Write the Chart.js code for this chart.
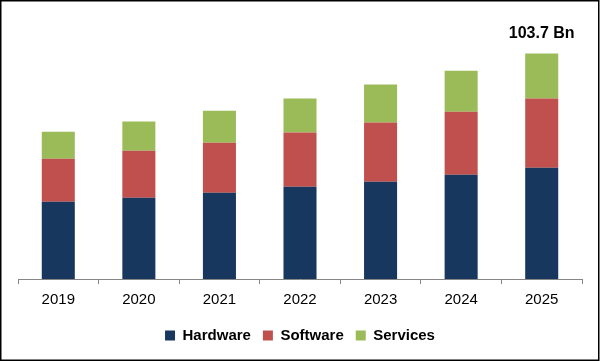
<!DOCTYPE html>
<html>
<head>
<meta charset="utf-8">
<script src="https://cdn.jsdelivr.net/npm/chart.js@4/dist/chart.umd.min.js"></script>
<style>
  html, body { margin: 0; padding: 0; background: #fff; }
  #wrap { width: 601px; height: 361px; }
</style>
</head>
<body>
<div id="wrap"><canvas id="chart" width="601" height="361"></canvas></div>
<script>
var years = ['2019', '2020', '2021', '2022', '2023', '2024', '2025'];
var hardware = [35.5, 37.3, 39.6, 42.4, 44.7, 47.9, 51.2];
var software = [19.8, 21.7, 23.0, 24.9, 27.2, 29.0, 31.8];
var services = [12.4, 13.4, 14.7, 15.7, 17.5, 18.9, 20.7];
var totalUnit = ' Bn';

// frame round the whole picture
var framePlugin = {
    id: 'frame',
    beforeDraw: function (chart) {
        var ctx = chart.ctx;
        ctx.save();
        ctx.fillStyle = '#ffffff';
        ctx.fillRect(0, 0, chart.width, chart.height);
        ctx.strokeStyle = '#000000';
        ctx.lineWidth = 1.5;
        ctx.strokeRect(0.75, 0.75, chart.width - 3, chart.height - 1.5);
        ctx.restore();
    }
};

// total over the last bar
var totalPlugin = {
    id: 'total',
    afterDatasetsDraw: function (chart) {
        var last = years.length - 1;
        var meta = chart.getDatasetMeta(2);
        var bar = meta.data[last];
        var total = hardware[last] + software[last] + services[last];
        var ctx = chart.ctx;
        ctx.save();
        ctx.font = 'bold 16px "Liberation Sans", Arial, sans-serif';
        ctx.fillStyle = '#000';
        ctx.textAlign = 'center';
        ctx.textBaseline = 'middle';
        ctx.fillText(total.toFixed(1) + totalUnit, bar.x, bar.y - 20);
        ctx.restore();
    }
};

var chart = new Chart('chart', {
    type: 'bar',
    data: {
        labels: years,
        datasets: [
            { label: 'Hardware', data: hardware, backgroundColor: '#17375E' },
            { label: 'Software', data: software, backgroundColor: '#C0504D' },
            { label: 'Services', data: services, backgroundColor: '#9BBB59' }
        ]
    },
    options: {
        responsive: false,
        animation: false,
        maintainAspectRatio: false,
        datasets: {
            bar: { categoryPercentage: 1, barPercentage: 0.41 }
        },
        layout: {
            padding: { top: 18, left: 18, right: 19, bottom: 8 }
        },
        plugins: {
            legend: {
                position: 'bottom',
                labels: {
                    boxWidth: 10,
                    boxHeight: 10,
                    padding: 12,
                    color: '#000',
                    font: { family: '"Liberation Sans", Arial, sans-serif', size: 15, weight: 'bold' }
                }
            },
            tooltip: { enabled: false }
        },
        scales: {
            x: {
                stacked: true,
                grid: {
                    display: true,
                    drawOnChartArea: false,
                    drawTicks: true,
                    tickLength: 5,
                    color: '#868686',
                    offset: true
                },
                border: { display: true, color: '#868686', width: 1 },
                ticks: {
                    color: '#000',
                    padding: 7,
                    font: { family: '"Liberation Sans", Arial, sans-serif', size: 15 }
                }
            },
            y: {
                stacked: true,
                display: false,
                min: 0,
                max: 120
            }
        }
    },
    plugins: [framePlugin, totalPlugin]
});
</script>
</body>
</html>
